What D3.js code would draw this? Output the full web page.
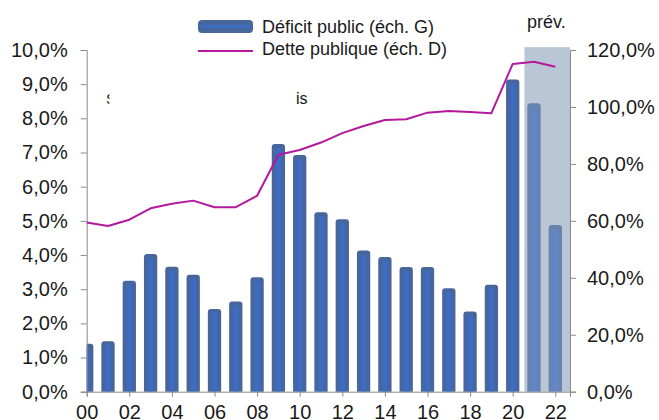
<!DOCTYPE html>
<html lang="fr">
<head>
<meta charset="UTF-8">
<script src='https://d3js.org/d3.v7.min.js'></script>
<title>Déficit et dette publique</title>
<style>
body{
	margin: 0;
	background: #ffffff;
	font-family: "Liberation Sans", Arial, sans-serif;
}
.axis text{ font-size: 20px; fill: #1a1a1a; font-family: "Liberation Sans", Arial, sans-serif; }
.axis path, .axis line{ stroke: #8a8a8a; }
.leg{ font-size: 18px; fill: #1a1a1a; }
</style>
</head>
<body>
<svg id="chart" width="659" height="420"></svg>

<script>
// years (2000..2022), 2021-2022 are forecasts
var years = [2000,2001,2002,2003,2004,2005,2006,2007,2008,2009,2010,2011,
             2012,2013,2014,2015,2016,2017,2018,2019,2020,2021,2022];
// deficit public, % (left scale)
var deficit = [1.40,1.48,3.25,4.03,3.66,3.42,2.42,2.64,3.35,7.25,6.93,5.25,
               5.05,4.13,3.94,3.65,3.65,3.03,2.35,3.13,9.14,8.44,4.88];
// dette publique, % (right scale)
var dette = [59.4,58.2,60.4,64.4,66.0,67.1,64.8,64.8,68.8,83.2,84.9,87.5,
             90.8,93.3,95.4,95.7,98.0,98.6,98.2,97.8,115.1,115.9,114.1];
var leftTicks = [0,1,2,3,4,5,6,7,8,9,10];
var rightTicks = [0,20,40,60,80,100,120];
var xTicks = [2000,2002,2004,2006,2008,2010,2012,2014,2016,2018,2020,2022];
var firstForecast = 2021;

function draw() {
var pLeft = 86.7, pRight = 570, pTop = 50, pBottom = 391.7;

var svg = d3.select("#chart");

var x = d3.scaleLinear().domain([2000, 2022.69]).range([pLeft, pRight]);
var yL = d3.scaleLinear().domain([0, 10]).range([pBottom, pTop]);
var yR = d3.scaleLinear().domain([0, 120]).range([pBottom, pTop]);
var fmt = function(v){ return d3.format(".1f")(v).replace(".", ",") + "%"; };

svg.append("clipPath").attr("id", "plot")
	.append("rect")
	.attr("x", pLeft).attr("y", 0)
	.attr("width", pRight - pLeft).attr("height", pBottom);

// forecast shade
svg.append("rect")
	.attr("x", x(firstForecast - 0.45))
	.attr("y", yR(121))
	.attr("width", pRight - x(firstForecast - 0.45))
	.attr("height", pBottom - yR(121))
	.attr("fill", "#b9c6d6");

svg.append("text")
	.attr("class", "leg")
	.attr("x", 527).attr("y", 28)
	.text("prév.");

// bars
var bw = 13.3;
var bars = svg.append("g").attr("clip-path", "url(#plot)")
	.selectAll("g").data(years).enter().append("g")
	.attr("opacity", function(d){ return d >= firstForecast ? 0.7 : 1; });

bars.append("rect")
	.attr("x", function(d){ return x(d) - bw/2; })
	.attr("y", function(d, i){ return yL(deficit[i]); })
	.attr("width", bw)
	.attr("height", function(d, i){ return pBottom - yL(deficit[i]) + 6; })
	.attr("rx", 3)
	.attr("fill", "#47679c");

bars.append("rect")
	.attr("x", function(d){ return x(d) - 2.5; })
	.attr("y", function(d, i){ return yL(deficit[i]) + 4; })
	.attr("width", 5)
	.attr("height", function(d, i){ return Math.max(0, pBottom - yL(deficit[i]) - 4); })
	.attr("fill", "#3c6cc6");

// axes
svg.append("g")
	.attr("class", "axis")
	.attr("transform", "translate(" + pLeft + ",0)")
	.call(d3.axisLeft(yL).tickValues(leftTicks).tickSize(6).tickPadding(13).tickFormat(fmt));

svg.append("g")
	.attr("class", "axis")
	.attr("transform", "translate(" + pRight + ",0)")
	.call(d3.axisRight(yR).tickValues(rightTicks).tickSize(6).tickPadding(11).tickFormat(fmt));

svg.append("g")
	.attr("class", "axis")
	.attr("transform", "translate(0," + pBottom + ")")
	.call(d3.axisBottom(x).tickValues(xTicks).tickSize(5).tickPadding(8)
		.tickFormat(function(d){ return String(d).slice(2); }));

svg.selectAll(".axis .domain").attr("stroke", "#8a8a8a");

// debt line
svg.append("path")
	.datum(years)
	.attr("fill", "none")
	.attr("stroke", "#b4189c")
	.attr("stroke-width", 2)
	.attr("stroke-linejoin", "round")
	.attr("d", d3.line()
		.x(function(d){ return x(d); })
		.y(function(d, i){ return yR(dette[i]); }));

// leftover annotation fragments
svg.append("clipPath").attr("id", "frag")
	.append("rect").attr("x", 100).attr("y", 80).attr("width", 9.5).attr("height", 30);
svg.append("text")
	.attr("clip-path", "url(#frag)")
	.attr("x", 106).attr("y", 104)
	.style("font-size", "15px").attr("fill", "#1a1a1a")
	.text("S");
svg.append("text")
	.attr("x", 296).attr("y", 104)
	.style("font-size", "16px").attr("fill", "#1a1a1a")
	.text("is");

// legend
svg.append("rect")
	.attr("x", 198).attr("y", 20).attr("width", 55).attr("height", 13)
	.attr("rx", 4).attr("fill", "#47679c");
svg.append("rect")
	.attr("x", 201).attr("y", 25).attr("width", 49).attr("height", 3)
	.attr("fill", "#3c6cc6");
svg.append("text").attr("class", "leg")
	.attr("x", 262).attr("y", 33)
	.text("Déficit public (éch. G)");

svg.append("line")
	.attr("x1", 198).attr("x2", 253).attr("y1", 51).attr("y2", 51)
	.attr("stroke", "#b4189c").attr("stroke-width", 2);
svg.append("text").attr("class", "leg")
	.attr("x", 262).attr("y", 55)
	.text("Dette publique (éch. D)");
}

draw();
</script>
</body>
</html>
